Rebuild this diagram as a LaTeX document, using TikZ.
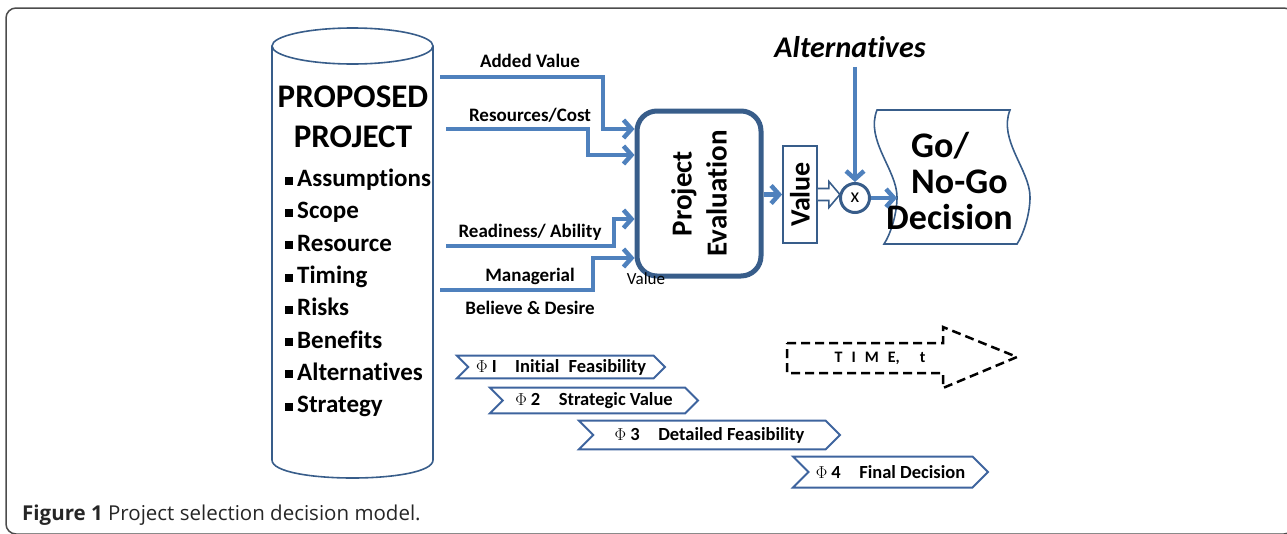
\documentclass[tikz,border=0pt]{standalone}
\usepackage{fontspec}
\setmainfont{Carlito}[Ligatures={NoCommon}]
\newfontfamily\capfont{Open Sans}
\usepackage{tikz}
\usetikzlibrary{positioning,shapes.symbols,arrows.meta}
\definecolor{flowblue}{RGB}{79,129,189}
\definecolor{darkblue}{RGB}{56,93,138}
\definecolor{phaseblue}{RGB}{62,100,158}
\tikzset{flow/.style={flowblue,line width=4.5pt,-{Straight Barb[length=8pt,width=18pt]}}}
\tikzset{lbl/.style={inner sep=0pt,font=\fontsize{19}{20}\selectfont\bfseries}}
\tikzset{phase/.style={signal,signal from=west,signal to=east,signal pointer angle=90,draw=phaseblue,line width=2pt,fill=white,inner sep=0pt,font=\fontsize{18.5}{20}\selectfont\bfseries}}

\begin{document}
\begin{tikzpicture}[x=1pt,y=-1pt,outline/.style={darkblue,line width=1.6pt}]
        \useasboundingbox (0,0) rectangle (1287,533);
        \draw[black!70,line width=1.5pt,rounded corners=10pt] (6,8) rectangle (1294,534);

        \draw[outline] (272,46) -- (272,460) .. controls (272,484) and (433,484) .. (433,460) -- (433,46);
        \draw[outline] (352.5,46) ellipse [x radius=80.5,y radius=18];
        \node (proj) at (353,117) [align=center,inner sep=0pt,font=\fontsize{33}{40}\selectfont\bfseries] {PROPOSED\\PROJECT};
        \node (items) at (285,293) [anchor=west,align=left,inner sep=0pt,font=\fontsize{25}{32.3}\selectfont\bfseries]
            {\rule[2pt]{8pt}{8pt}\hspace{4pt}Assumptions\\\rule[2pt]{8pt}{8pt}\hspace{4pt}Scope\\\rule[2pt]{8pt}{8pt}\hspace{4pt}Resource\\\rule[2pt]{8pt}{8pt}\hspace{4pt}Timing\\\rule[2pt]{8pt}{8pt}\hspace{4pt}Risks\\\rule[2pt]{8pt}{8pt}\hspace{4pt}Benefits\\\rule[2pt]{8pt}{8pt}\hspace{4pt}Alternatives\\\rule[2pt]{8pt}{8pt}\hspace{4pt}Strategy};

        \node (eval) at (699,193.5) [draw=darkblue,line width=5pt,rounded corners=20pt,minimum width=124pt,minimum height=165pt] {};
        \node (evaltxt) at (eval) [rotate=90,align=center,inner sep=0pt,font=\fontsize{29}{35}\selectfont\bfseries] {Project\\Evaluation};

        \coordinate (s1) at (440,77);
        \coordinate (s2) at (446,129);
        \coordinate (s3) at (446,246);
        \coordinate (s4) at (440,290);
        \draw[flow] (s1) -| ++(163,52) -- ([yshift=64.5pt]eval.west);
        \draw[flow] (s2) -| ++(142,26) -- ([yshift=38.5pt]eval.west);
        \draw[flow] (s3) -| ++(168,-27) -- ([yshift=-25.5pt]eval.west);
        \draw[flow] (s4) -| ++(153,-32) -- ([yshift=-64.5pt]eval.west);
        \node (l1) at (530,61) [lbl] {Added Value};
        \node (l2) at (530,115) [lbl] {Resources/Cost};
        \node (l3) at (530,232) [lbl] {Readiness/ Ability};
        \node (l4) at (530,276) [lbl] {Managerial};
        \node (l5) at (530,308) [lbl] {Believe \& Desire};
        \node (l6) at (646,279) [inner sep=0pt,font=\fontsize{17}{20}\selectfont] {Value};

        \node (val) at (800,194.5) [draw=darkblue,line width=1.8pt,minimum width=34pt,minimum height=97pt] {};
        \node (valtxt) at (val) [rotate=90,inner sep=0pt,font=\fontsize{28}{30}\selectfont\bfseries] {Value};
        \draw[flow] (eval.east |- val) -- (val.west);
        \draw[outline,fill=white] (val.east) ++(0,-6) -- ++(11,0) -- ++(0,-7) -- ++(11,13) -- ++(-11,13) -- ++(0,-7) -- ++(-11,0);

        \node (mult) at (855,198) [circle,draw=darkblue,line width=3pt,minimum size=29pt,inner sep=0pt,font=\fontsize{20}{20}\selectfont] {x};
        \node (alt) at (850,47) [inner sep=0pt,font=\fontsize{30}{30}\selectfont\bfseries\itshape] {Alternatives};
        \draw[flow,shorten <=9pt] (alt.south -| mult) -- (mult);

        \draw[outline] (877,110) -- (1010,110) .. controls (998,140) and (1030,170) .. (1030,197) .. controls (1030,215) and (1023,235) .. (1017,244)
            -- (884,244) .. controls (890,235) and (897,215) .. (897,197) .. controls (897,170) and (865,140) .. (877,110) -- cycle;
        \node (godec) at (886,181) [anchor=west,align=left,inner sep=0pt,font=\fontsize{36}{36}\selectfont\bfseries] {\hspace*{25pt}Go/\\\hspace*{25pt}No-Go\\Decision};
        \coordinate (gin) at (897,198);
        \draw[flow] (mult) -- (gin);

        \node (ph1) at (561,367) [phase,minimum width=208pt,minimum height=22.6pt] {$\Phi$ I\quad Initial\; Feasibility};
        \node (ph2) at (594,400.5) [phase,minimum width=208pt,minimum height=25.6pt] {$\Phi$ 2\quad Strategic Value};
        \node (ph3) at (709.5,435) [phase,minimum width=261pt,minimum height=28.6pt] {$\Phi$ 3\quad Detailed Feasibility};
        \node (ph4) at (890.5,472) [phase,minimum width=195pt,minimum height=31pt] {$\Phi$ 4\quad Final Decision};

        \draw[black,line width=2.5pt,dash pattern=on 9pt off 5pt] (787,343) -- (943,343) -- (943,327) -- (1017,357) -- (943,388) -- (943,373) -- (787,373) -- cycle;
        \node (time) at (880,358) [inner sep=0pt,font=\fontsize{16}{18}\selectfont\bfseries] {T\hspace{9pt}I\hspace{9pt}M\hspace{9pt}E,\hspace{20pt}t};

        \node (cap) at (22,515) [anchor=west,inner sep=0pt,text=black!85,font=\capfont\fontsize{20.5}{22}\selectfont] {\textbf{Figure 1} Project selection decision model.};
\end{tikzpicture}
\end{document}
